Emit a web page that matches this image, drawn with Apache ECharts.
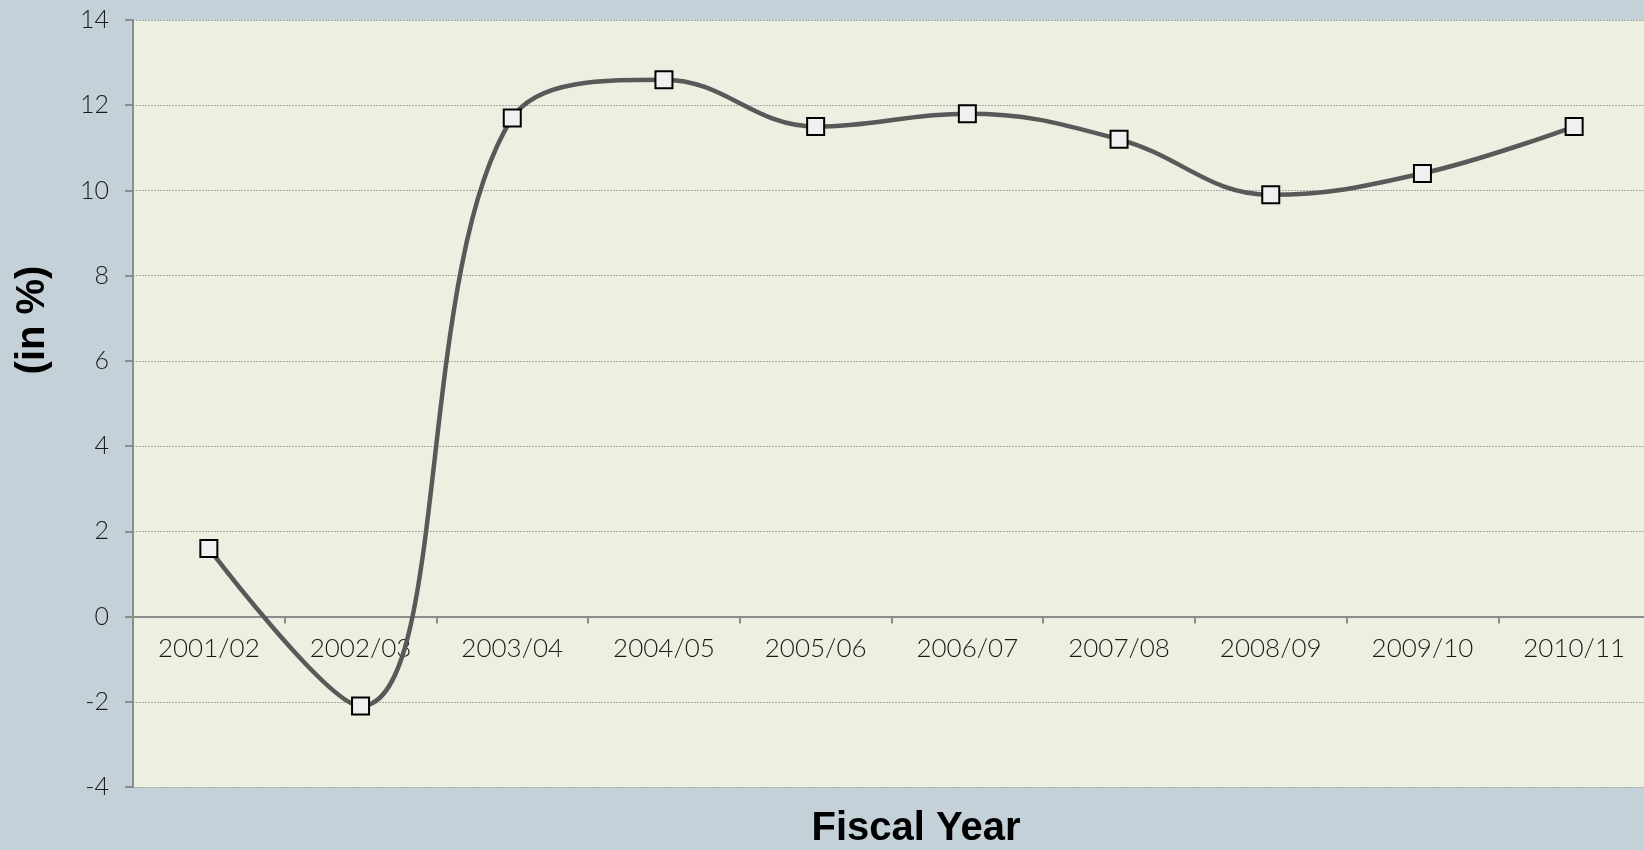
<!DOCTYPE html>
<html>
<head>
<meta charset="utf-8">
<script src="https://cdn.jsdelivr.net/npm/echarts@6/dist/echarts.min.js"></script>
<style>
html,body{margin:0;padding:0;background:#c5d1d8;overflow:hidden;width:1644px;height:850px;}
#chart{width:1650px;height:850px;}
</style>
</head>
<body>
<div id="chart"></div>
<script>
const categories = ['2001/02','2002/03','2003/04','2004/05','2005/06','2006/07','2007/08','2008/09','2009/10','2010/11'];
const growth = [1.6, -2.1, 11.7, 12.6, 11.5, 11.8, 11.2, 9.9, 10.4, 11.5];
const yTicks = {min: -4, max: 14, interval: 2};
const yTitle = '(in %)';
const xTitle = 'Fiscal Year';

const chart = echarts.init(document.getElementById('chart'), null, {renderer: 'canvas'});
const tickFont = 'Lato';
const gridTop = 20, gridBottom = 63, chartH = 850;
// place the x axis line at value 0 (offset from the grid bottom)
const plotH = chartH - gridTop - gridBottom;
const zeroOffset = -plotH * (0 - yTicks.min) / (yTicks.max - yTicks.min);
chart.setOption({
  backgroundColor: '#c5d1d8',
  animation: false,
  grid: {
    left: 133, top: gridTop, bottom: gridBottom, right: 0,
    show: true, backgroundColor: '#ecf0e0', borderWidth: 0
  },
  xAxis: {
    type: 'category',
    data: categories,
    boundaryGap: true,
    offset: zeroOffset,
    axisLine: {onZero: false, lineStyle: {color: '#8c8c8c', width: 2}},
    axisTick: {show: true, length: 7, lineStyle: {color: '#8c8c8c', width: 2}},
    axisLabel: {color: '#1a1a1a', fontSize: 26, fontFamily: tickFont, fontWeight: 300, margin: 19},
    splitLine: {show: false}
  },
  yAxis: {
    type: 'value',
    min: yTicks.min, max: yTicks.max, interval: yTicks.interval,
    axisLine: {show: true, onZero: false, lineStyle: {color: '#8c8c8c', width: 2}},
    axisTick: {show: true, length: 8, lineStyle: {color: '#8c8c8c', width: 2}},
    axisLabel: {color: '#1a1a1a', fontSize: 25, fontFamily: tickFont, fontWeight: 300, margin: 24},
    splitLine: {show: true, lineStyle: {color: '#a8a8a8', width: 1, type: [2, 1]}}
  },
  series: [{
    type: 'line',
    data: growth,
    smooth: 0.4,
    symbol: 'rect',
    symbolSize: 17,
    lineStyle: {color: '#595959', width: 4.5},
    itemStyle: {color: '#f0f0f0', borderColor: '#000000', borderWidth: 2},
    z: 3
  }],
  graphic: [
    {type: 'text', x: 33, y: 320, rotation: Math.PI / 2,
     style: {text: yTitle, align: 'center', verticalAlign: 'middle', font: 'bold 40px "Liberation Sans", Arial', fill: '#000'}},
    {type: 'text', x: 916, y: 829,
     style: {text: xTitle, align: 'center', verticalAlign: 'middle', font: 'bold 40px "Liberation Sans", Arial', fill: '#000'}}
  ]
});
</script>
</body>
</html>
